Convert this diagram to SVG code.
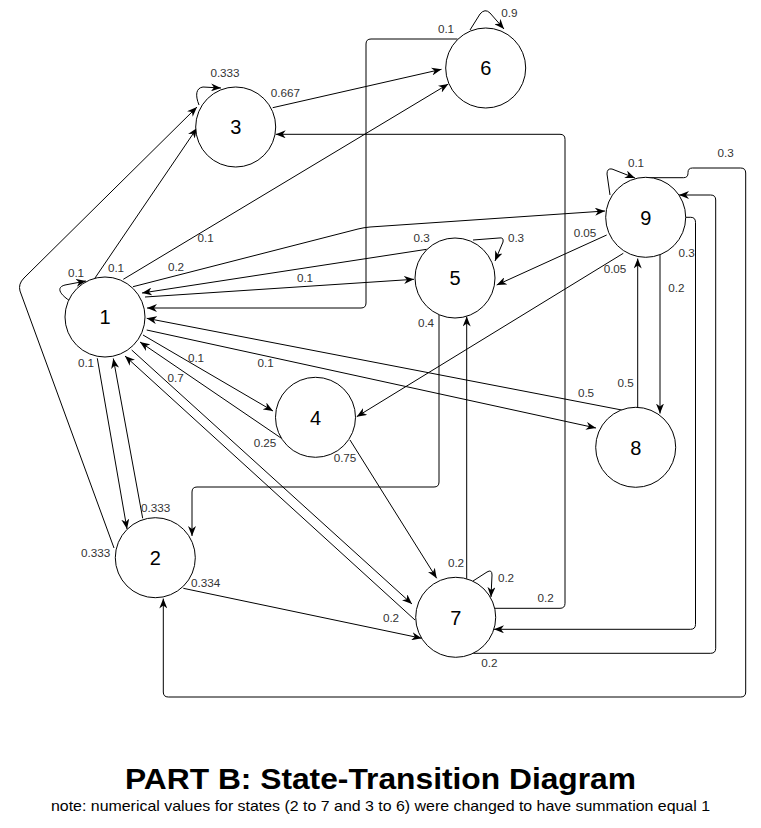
<svg xmlns="http://www.w3.org/2000/svg" width="761" height="828" viewBox="0 0 761 828">
<style>
.node circle{fill:#fff;stroke:#000;stroke-width:1}
.node text{font-family:"Liberation Sans",Arial,sans-serif;font-size:20px;fill:#000;text-anchor:middle}
.edge{fill:none;stroke:#000;stroke-width:1;marker-end:url(#arr)}
.loop{fill:none;stroke:#000;stroke-width:1;marker-end:url(#arr)}
.plain{fill:none;stroke:#000;stroke-width:1}
.lbl{font-family:"Liberation Sans",Arial,sans-serif;font-size:11.7px;fill:#333;text-anchor:middle}
.title{font-family:"Liberation Sans",Arial,sans-serif;font-size:30px;font-weight:bold;fill:#000;text-anchor:middle}
.sub{font-family:"Liberation Sans",Arial,sans-serif;font-size:14.5px;fill:#000;text-anchor:middle}
</style>
<defs>
<marker id="arr" viewBox="0 0 10 8" refX="10" refY="4" markerWidth="10" markerHeight="8" markerUnits="userSpaceOnUse" orient="auto">
<path d="M0,0 L10,4 L0,8 L3,4 Z" fill="#000"/>
</marker>
</defs>
<rect width="761" height="828" fill="#fff"/>
<g id="connectors">
<!-- self loops -->
<path class="loop" d="M70,301 C58,293 57,287 65,285 L86,281"/>
<path class="loop" d="M199,105 C195,95 196,88 203,87 L221,88"/>
<path class="loop" d="M470,30 L480,14 Q485,8 490,13 L504,29"/>
<path class="loop" d="M610,195 L607,174 Q607,168 612,169 L635,178"/>
<path class="loop" d="M473,240 L499,238 Q504,237 503,242 L495,261"/>
<path class="loop" d="M473,581 L487,572 Q492,569 492,575 L491,597"/>
<!-- straight edges -->
<path class="edge" d="M95,278 L197,128"/>
<path class="edge" d="M123.3,279.3 L448.3,84"/>
<path class="edge" d="M272.7,107.7 L441.5,69.3"/>
<path class="edge" d="M133,286.7 L358,229 Q364,227.5 370,227 L605,211"/>
<path class="edge" d="M426.7,249.3 L142,293"/>
<path class="edge" d="M145,297 L414,279.3"/>
<path class="edge" d="M457.5,39 L371,39 Q366,39 366,44 L366,303 Q366,308 361,308 L147,308"/>
<path class="edge" d="M143,335 L273,411"/>
<path class="edge" d="M281,438 L140,342"/>
<path class="edge" d="M146.7,330 L596,428"/>
<path class="edge" d="M621.7,410 L146.7,318.3"/>
<path class="edge" d="M97.3,358.3 L127,529"/>
<path class="edge" d="M142.7,518.3 L113.3,358.5"/>
<path class="edge" d="M114,548 L20,291 Q18,284 24,278 L197,107"/>
<path class="edge" d="M183.3,588.3 L421.7,638.3"/>
<path class="edge" d="M131.7,350 L412,604"/>
<path class="edge" d="M415,620 L125,356"/>
<path class="edge" d="M350,440 L436.7,578.3"/>
<path class="edge" d="M606.7,235 L496.7,285"/>
<path class="edge" d="M623.3,253.3 L356.7,416.7"/>
<path class="edge" d="M660,255 L660,413.5"/>
<path class="edge" d="M637.7,407.3 L637.7,258.5"/>
<path class="edge" d="M466.7,578.8 L466.7,316.5"/>
<path class="edge" d="M439,314.7 L439,482 Q439,487 434,487 L197,487 Q192,487 192,492 L192,536"/>
<path class="edge" d="M494.7,608.3 L560,608.3 Q565,608.3 565,603.3 L565,139.3 Q565,134.3 560,134.3 L275.7,134.3"/>
<path class="edge" d="M685.7,217.3 L690.7,217.3 Q695.5,217.3 695.5,222.3 L695.5,624.3 Q695.5,629.3 690.5,629.3 L494,629.3"/>
<path class="edge" d="M473.3,653.3 L710.7,653.3 Q715.7,653.3 715.7,648.3 L715.7,200 Q715.7,195 710.7,195 L679,195"/>
<path class="edge" d="M646,177.7 L683.5,177.7 Q688,177.7 688,173.2 L688,172.5 Q688,168 692.5,168 L740.7,168 Q745.7,168 745.7,173 L745.7,692 Q745.7,697 740.7,697 L168.3,697 Q163.3,697 163.3,692 L163.3,598.5"/>
</g>
<g id="edge-labels">
<text class="lbl" x="225" y="77">0.333</text>
<text class="lbl" x="285.3" y="97">0.667</text>
<text class="lbl" x="446" y="32.5">0.1</text>
<text class="lbl" x="509.3" y="17">0.9</text>
<text class="lbl" x="636" y="167">0.1</text>
<text class="lbl" x="725.7" y="157">0.3</text>
<text class="lbl" x="585" y="236.5">0.05</text>
<text class="lbl" x="686.7" y="257">0.3</text>
<text class="lbl" x="615" y="272.5">0.05</text>
<text class="lbl" x="676.3" y="292">0.2</text>
<text class="lbl" x="516" y="242">0.3</text>
<text class="lbl" x="421.7" y="242">0.3</text>
<text class="lbl" x="116" y="272">0.1</text>
<text class="lbl" x="76" y="277">0.1</text>
<text class="lbl" x="205.7" y="242">0.1</text>
<text class="lbl" x="176" y="271">0.2</text>
<text class="lbl" x="305" y="282">0.1</text>
<text class="lbl" x="426" y="327">0.4</text>
<text class="lbl" x="196" y="361.5">0.1</text>
<text class="lbl" x="265.7" y="366.5">0.1</text>
<text class="lbl" x="86" y="367">0.1</text>
<text class="lbl" x="175.7" y="382">0.7</text>
<text class="lbl" x="625.7" y="386.5">0.5</text>
<text class="lbl" x="586" y="397">0.5</text>
<text class="lbl" x="265" y="447">0.25</text>
<text class="lbl" x="345" y="462">0.75</text>
<text class="lbl" x="155.7" y="512">0.333</text>
<text class="lbl" x="95.7" y="556.5">0.333</text>
<text class="lbl" x="205.7" y="587">0.334</text>
<text class="lbl" x="456" y="567">0.2</text>
<text class="lbl" x="506" y="582">0.2</text>
<text class="lbl" x="545.7" y="601.5">0.2</text>
<text class="lbl" x="391" y="621.5">0.2</text>
<text class="lbl" x="489.3" y="667">0.2</text>
</g>
<g id="node1" class="node"><circle cx="105" cy="317" r="40"/><text x="105" y="324.2">1</text></g>
<g id="node2" class="node"><circle cx="155.3" cy="557.7" r="40"/><text x="155.3" y="564.9">2</text></g>
<g id="node3" class="node"><circle cx="235.7" cy="127" r="40"/><text x="235.7" y="134.2">3</text></g>
<g id="node4" class="node"><circle cx="315.5" cy="417.3" r="40"/><text x="315.5" y="424.5">4</text></g>
<g id="node5" class="node"><circle cx="455" cy="278" r="40"/><text x="455" y="285.2">5</text></g>
<g id="node6" class="node"><circle cx="485.7" cy="68" r="40"/><text x="485.7" y="75.2">6</text></g>
<g id="node7" class="node"><circle cx="455.7" cy="617.3" r="40"/><text x="455.7" y="624.5">7</text></g>
<g id="node8" class="node"><circle cx="635.7" cy="447.3" r="40"/><text x="635.7" y="454.5">8</text></g>
<g id="node9" class="node"><circle cx="645.7" cy="217.3" r="40"/><text x="645.7" y="224.5">9</text></g>
<g id="caption">
<text class="title" x="380.5" y="789" textLength="511" lengthAdjust="spacingAndGlyphs">PART B: State-Transition Diagram</text>
<text class="sub" x="380.5" y="811" textLength="659" lengthAdjust="spacingAndGlyphs">note: numerical values for states (2 to 7 and 3 to 6) were changed to have summation equal 1</text>
</g>
</svg>
